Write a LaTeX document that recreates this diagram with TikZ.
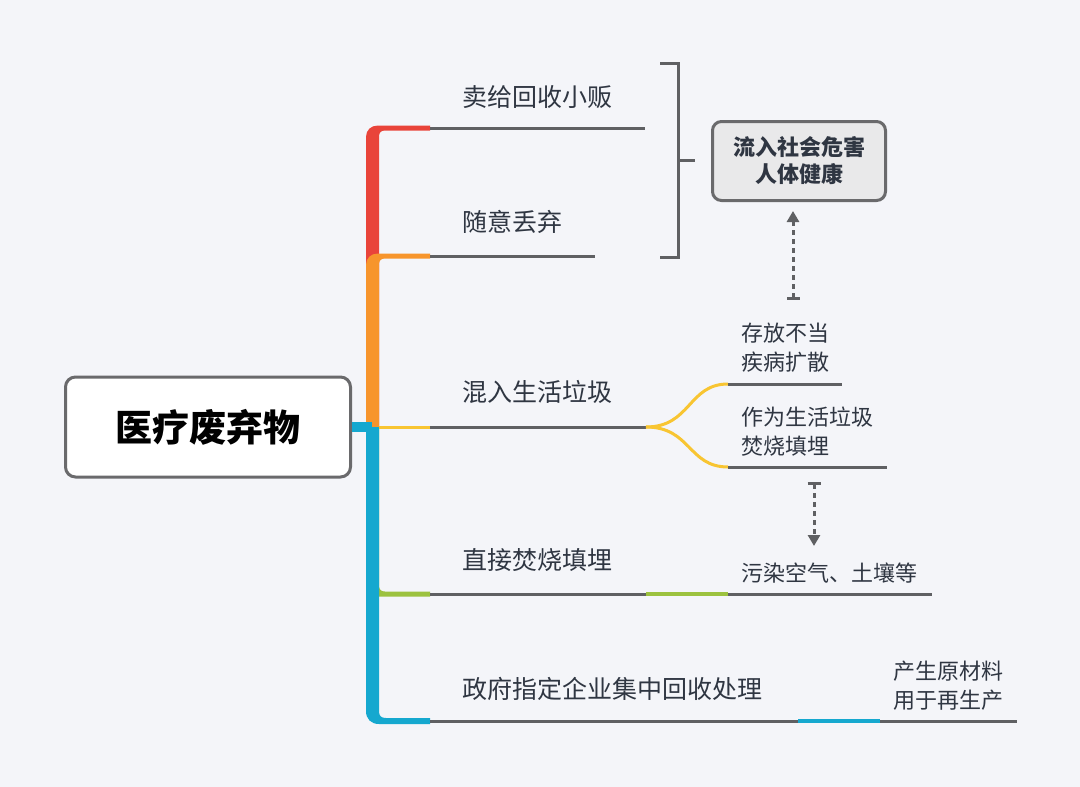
\documentclass[tikz,border=0pt]{standalone}
\usepackage{fontspec}
\setmainfont{Noto Sans CJK SC}
\usepackage{tikz}
\usetikzlibrary{arrows.meta, positioning, calc}
\definecolor{PageBg}{HTML}{F4F5F9}
\definecolor{LineGray}{HTML}{5F6063}
\definecolor{FrameGray}{HTML}{6A6A6C}
\definecolor{InkDark}{HTML}{2F3642}
\definecolor{BoxGray}{HTML}{E9E9EA}
\definecolor{BranchRed}{HTML}{E9443A}
\definecolor{BranchOrange}{HTML}{F7952C}
\definecolor{BranchYellow}{HTML}{F8C532}
\definecolor{BranchGreen}{HTML}{9CC23F}
\definecolor{BranchBlue}{HTML}{15A8CF}
\tikzset{
  rootbox/.style={rectangle, rounded corners=10pt, draw=FrameGray, line width=3pt, fill=white, minimum width=285pt, minimum height=100pt, font=\bfseries\fontsize{37}{44}\selectfont, text=black},
  hurtbox/.style={rectangle, rounded corners=9pt, draw=FrameGray, line width=3pt, fill=BoxGray, minimum width=173pt, minimum height=79pt, font=\bfseries\fontsize{22}{27}\selectfont, text=InkDark, align=center},
  topiclabel/.style={inner sep=0pt, anchor=west, text=InkDark, font=\fontsize{25}{30}\selectfont},
  sublabel/.style={inner sep=0pt, anchor=west, text=InkDark, font=\fontsize{22}{29}\selectfont, align=left},
  underline/.style={draw=LineGray, line width=3pt},
  dashedarrow/.style={{Bar[width=13pt]}-{Triangle[width=12pt,length=11pt]}, dash pattern=on 5pt off 4pt, line width=3pt, LineGray}
}

\begin{document}
\begin{tikzpicture}[x=1pt, y=-1pt]
  \fill[PageBg] (0,0) rectangle (1080,787);
  \useasboundingbox (0,0) rectangle (1080,787);

  % root and hub
  \node[rootbox] (root) at (208,427) {医疗废弃物};
  \coordinate (hub) at (372,427);
  \coordinate (hubr) at (379,427);
  \coordinate (b1) at (430,128);
  \coordinate (b2) at (430,256);
  \coordinate (b3) at (430,427);
  \coordinate (b4) at (430,594);
  \coordinate (b5) at (430,721);
  \coordinate (e1) at (645,128);
  \coordinate (e2) at (595,256);
  \coordinate (fork) at (646,427);
  \coordinate (g4) at (646,594);
  \coordinate (h4) at (728,594);
  \coordinate (e4) at (932,594);
  \coordinate (g5) at (798,721);
  \coordinate (h5) at (880,721);
  \coordinate (e5) at (1017,721);

  % coloured trunk, tapering into the branches
  \fill[BranchRed] (366,427) -- (366,137) .. controls (366,130) and (371,125.5) .. (378,125.5) -- (430,125.5) -- (430,130.5) -- (385,130.5) .. controls (381,130.5) and (379,132.5) .. (379,136.5) -- (379,427) -- cycle;
  \fill[BranchOrange] (366,427) -- (366,265) .. controls (366,258) and (371,253.5) .. (378,253.5) -- (430,253.5) -- (430,258.5) -- (385,258.5) .. controls (381,258.5) and (379,260.5) .. (379,264.5) -- (379,427) -- cycle;
  \fill[BranchGreen] (366,427) -- (366,585) .. controls (366,592) and (371,596.5) .. (378,596.5) -- (430,596.5) -- (430,591.5) -- (385,591.5) .. controls (381,591.5) and (379,589.5) .. (379,585.5) -- (379,427) -- cycle;
  \fill[BranchBlue] (366,427) -- (366,711) .. controls (366,719) and (371,724) .. (379,724) -- (430,724) -- (430,718) -- (386,718) .. controls (381,718) and (379,716) .. (379,711) -- (379,427) -- cycle;
  \draw[BranchBlue, line width=10pt] (root.east) -- (hub);
  \draw[BranchYellow, line width=3pt] (hubr) -- (b3);

  % first level topics
  \node[topiclabel] (t1) at (462,97) {卖给回收小贩};
  \node[topiclabel] (t2) at (462,222) {随意丢弃};
  \node[topiclabel] (t3) at (462,392) {混入生活垃圾};
  \node[topiclabel] (t4) at (462,560) {直接焚烧填埋};
  \node[topiclabel] (t5) at (462,689) {政府指定企业集中回收处理};
  \draw[underline] (b1) -- (e1);
  \draw[underline] (b2) -- (e2);
  \draw[underline] (b3) -- (fork);
  \draw[underline] (b4) -- (g4);
  \draw[underline] (b5) -- (g5);

  % bracket and summary box
  \coordinate (bt) at (660,63);
  \coordinate (bb) at (660,257);
  \coordinate (bk) at (678,160);
  \coordinate (bm) at (695,160);
  \draw[underline] (bt) -| (bk) |- (bb);
  \draw[underline] (bk) -- (bm);
  \node[hurtbox] (hurt) at (799,161) {流入社会危害\\人体健康};

  % sub topics
  \coordinate (s1) at (728,384);
  \coordinate (s1e) at (842,384);
  \coordinate (s2) at (728,467);
  \coordinate (s2e) at (887,467);
  \draw[BranchYellow, line width=3pt] (fork) .. controls +(45,0) and +(-40,0) .. (s1);
  \draw[BranchYellow, line width=3pt] (fork) .. controls +(45,0) and +(-40,0) .. (s2);
  \draw[underline] (s1) -- (s1e);
  \draw[underline] (s2) -- (s2e);
  \node[sublabel] (u1) at (741,347.5) {存放不当\\疾病扩散};
  \node[sublabel] (u2) at (741,431.5) {作为生活垃圾\\焚烧填埋};

  \draw[BranchGreen, line width=4pt] (g4) -- (h4);
  \draw[underline] (h4) -- (e4);
  \node[sublabel] (u3) at (741,573) {污染空气、土壤等};

  \draw[BranchBlue, line width=4pt] (g5) -- (h5);
  \draw[underline] (h5) -- (e5);
  \node[sublabel] (u4) at (893,686) {产生原材料\\用于再生产};

  % dashed links
  \coordinate (a1) at (793,300);
  \coordinate (a1t) at (793,211);
  \coordinate (a2) at (814,482);
  \coordinate (a2t) at (814,546);
  \draw[dashedarrow] (a1) -- (a1t);
  \draw[dashedarrow] (a2) -- (a2t);
\end{tikzpicture}
\end{document}
